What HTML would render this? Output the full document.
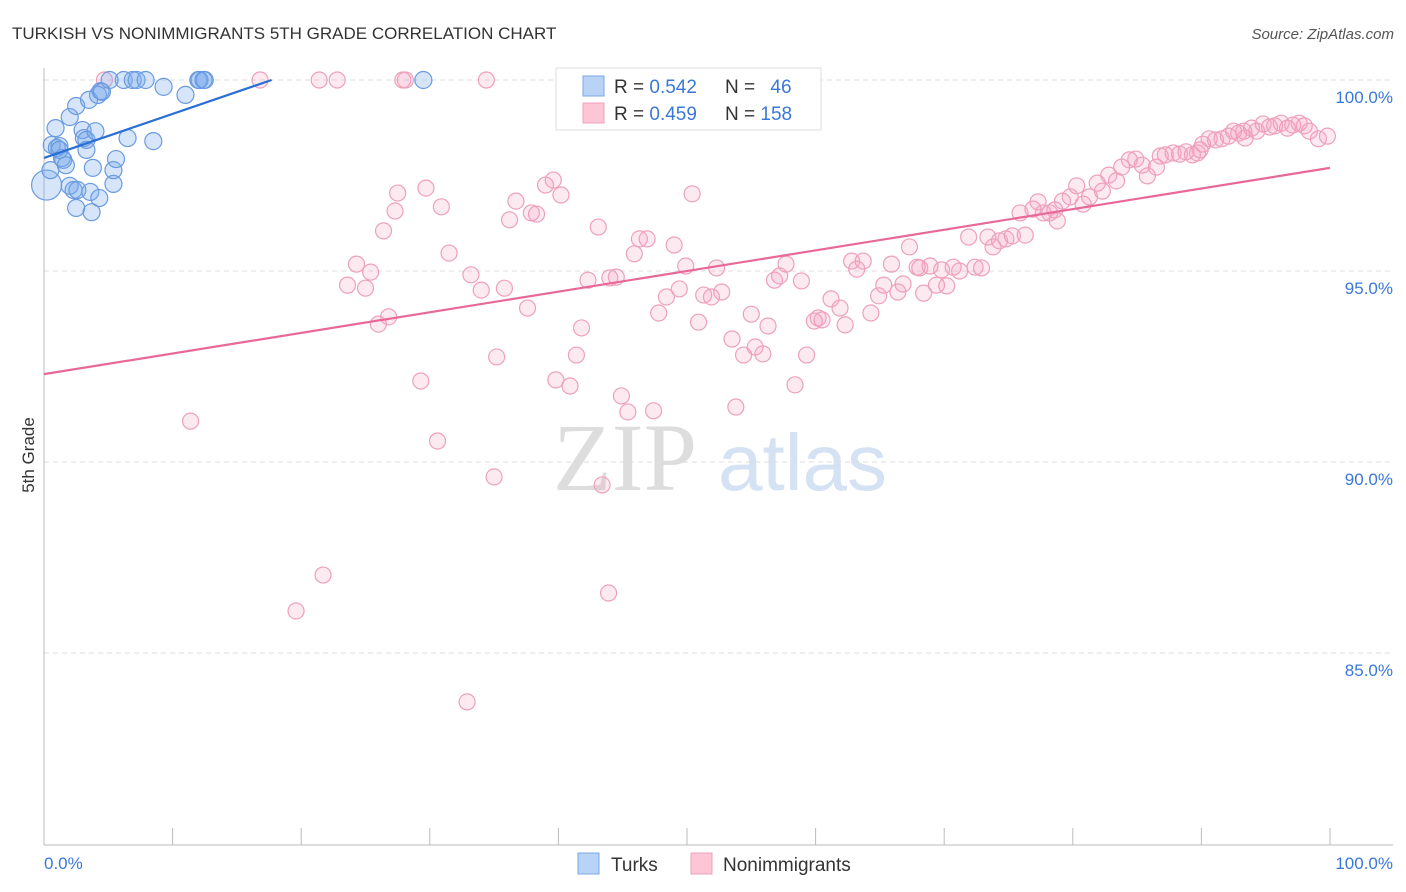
<!DOCTYPE html>
<html><head><meta charset="utf-8"><style>
body{margin:0;background:#fff;font-family:"Liberation Sans",sans-serif}
svg{display:block}
</style></head><body>
<svg id="chart" width="1406" height="892">
<text x="12" y="39" font-size="17" fill="#333">TURKISH VS NONIMMIGRANTS 5TH GRADE CORRELATION CHART</text>
<text x="1394" y="39" font-size="15" fill="#555" font-style="italic" text-anchor="end">Source: ZipAtlas.com</text>
<g>
<text x="553" y="490" font-size="96" font-family="Liberation Serif,serif" fill="#ddd">ZIP</text>
<text x="718" y="490" font-size="80" fill="#d4e2f4">atlas</text>
</g>
<g id="grid"></g>
<g id="axes"></g>
<g id="pts"></g>
<g id="lines"></g>
<text transform="translate(34,455) rotate(-90)" font-size="17" fill="#333" text-anchor="middle">5th Grade</text>
<text x="44" y="869" font-size="17" fill="#3a78d8">0.0%</text>
<text x="1393" y="869" font-size="17" fill="#3a78d8" text-anchor="end">100.0%</text>
<g>
<rect x="556" y="68" width="265" height="62" fill="#fff" stroke="#ddd"/>
<rect x="583" y="76" width="21" height="20" fill="#b8d3f5" stroke="#7aa8e8"/>
<rect x="583" y="103" width="21" height="20" fill="#fcc6d6" stroke="#eea0ba"/>
<text x="614" y="93" font-size="19" fill="#333">R = <tspan fill="#3a78d8">0.542</tspan></text>
<text x="725" y="93" font-size="19" fill="#333">N = <tspan fill="#3a78d8" dx="10">46</tspan></text>
<text x="614" y="120" font-size="19" fill="#333">R = <tspan fill="#3a78d8">0.459</tspan></text>
<text x="725" y="120" font-size="19" fill="#333">N = <tspan fill="#3a78d8">158</tspan></text>
</g>
<g>
<rect x="578" y="853" width="21" height="21" fill="#b8d3f5" stroke="#7aa8e8"/>
<text x="611" y="871" font-size="19" fill="#333">Turks</text></g>
<g>
<rect x="691" y="853" width="21" height="21" fill="#fcc6d6" stroke="#eea0ba"/>
<text x="723" y="871" font-size="19" fill="#333">Nonimmigrants</text></g>
</svg>
<script>
const yTicks=[100,95,90,85];
const yTickLabels=["100.0%","95.0%","90.0%","85.0%"];
const turksX=[0.2,0.5,0.6,0.9,1.0,1.2,1.4,1.5,1.7,2.0,2.0,2.3,2.5,2.5,2.6,3.0,3.1,3.3,3.3,3.5,3.6,3.7,3.8,4.0,4.2,4.3,4.4,4.5,5.1,5.4,5.4,5.6,6.2,6.5,6.9,7.2,7.9,8.5,9.3,11.0,12.0,12.1,12.4,12.5,29.5,1.2];
const turksY=[97.25,97.64,98.30,98.74,98.22,98.27,97.96,97.91,97.77,99.03,97.23,97.12,99.32,96.65,97.12,98.69,98.48,98.43,98.17,99.48,97.07,96.54,97.70,98.66,99.61,96.91,99.71,99.69,100,97.28,97.64,97.93,100,98.48,100,100,100,98.40,99.82,99.61,100,100,100,100,100,98.17];
const nonX=[4.7,11.4,16.8,19.6,21.4,21.7,22.8,23.6,24.3,25.0,25.4,26.0,26.4,26.8,27.3,27.5,27.9,28.1,29.3,29.7,30.6,30.9,31.5,32.9,33.2,34.0,34.4,35.0,35.2,35.8,36.2,36.7,37.6,37.9,38.3,39.0,39.6,39.8,40.2,40.9,41.4,41.8,42.3,43.1,43.4,43.9,44.0,44.5,44.9,45.4,45.9,46.3,46.9,47.4,47.8,48.4,49.0,49.4,49.9,50.4,50.9,51.3,51.9,52.3,52.7,53.5,53.8,54.4,55.0,55.3,55.9,56.3,56.8,57.2,57.7,58.4,58.9,59.3,59.9,60.2,60.5,61.2,61.9,62.3,62.8,63.2,63.7,64.3,64.9,65.3,65.9,66.4,66.8,67.3,67.9,68.4,68.9,69.4,69.8,70.2,70.7,71.2,71.9,72.4,72.9,73.4,73.8,74.3,74.8,75.3,75.9,76.3,76.9,77.3,77.7,78.2,78.8,79.2,79.8,80.3,80.8,81.3,81.9,82.3,82.8,83.4,83.8,84.4,84.9,85.4,85.8,86.5,86.8,87.2,87.8,88.3,88.8,89.3,89.7,90.1,90.6,91.1,91.6,92.1,92.5,92.9,93.3,93.9,94.3,94.8,95.3,95.7,96.2,96.7,97.1,97.6,98.0,98.4,99.1,99.8,93.4,89.9,78.6,68.1];
const nonY=[100,91.07,100,86.10,100,87.04,100,94.63,95.18,94.55,94.97,93.61,96.05,93.80,96.57,97.04,100,100,92.12,97.17,90.55,96.68,95.47,83.72,94.90,94.50,100,89.61,92.75,94.55,96.34,96.83,94.03,96.52,96.49,97.25,97.38,92.15,96.99,91.99,92.80,93.51,94.76,96.15,89.40,86.57,94.82,94.84,91.73,91.31,95.45,95.84,95.84,91.34,93.90,94.32,95.68,94.53,95.13,97.02,93.66,94.37,94.32,95.08,94.45,93.22,91.44,92.80,93.87,93.01,92.83,93.56,94.76,94.87,95.18,92.02,94.74,92.80,93.69,93.77,93.72,94.27,94.03,93.59,95.26,95.05,95.26,93.90,94.35,94.63,95.18,94.45,94.66,95.63,95.10,94.42,95.13,94.63,95.03,94.61,95.10,95.0,95.89,95.10,95.08,95.89,95.63,95.79,95.84,95.92,96.52,95.94,96.62,96.81,96.52,96.52,96.31,96.83,96.94,97.23,96.75,96.94,97.30,97.09,97.51,97.36,97.72,97.91,97.93,97.77,97.49,97.72,98.01,98.04,98.09,98.06,98.12,98.04,98.09,98.32,98.46,98.43,98.46,98.53,98.66,98.61,98.66,98.74,98.66,98.85,98.77,98.80,98.87,98.74,98.82,98.87,98.80,98.66,98.46,98.53,98.48,98.17,96.60,95.08];
const turksTrend=[[0,97.96],[17.7,100]];
const nonTrend=[[0,92.30],[100,97.70]];
const NS="http://www.w3.org/2000/svg";
const sx=v=>44+v*12.86, sy=v=>80+(100-v)*38.2;
function mk(t,a,p){const e=document.createElementNS(NS,t);for(const k in a)e.setAttribute(k,a[k]);p.appendChild(e);return e;}
const grid=document.getElementById('grid'),axes=document.getElementById('axes'),pts=document.getElementById('pts'),lines=document.getElementById('lines');
yTicks.forEach((t,i)=>{
 const l=mk('line',{x1:44,x2:1393,y1:sy(t),y2:sy(t),stroke:'#ddd','stroke-dasharray':'5,4'},grid);
 
 
 const tx=mk('text',{x:1393,y:sy(t)+23,'font-size':17,fill:'#3a78d8','text-anchor':'end'},grid);
 tx.textContent=yTickLabels[i];
 
 
});
const ya=mk('line',{x1:44,x2:44,y1:68,y2:845,stroke:'#bbb'},axes);


const xa=mk('line',{x1:44,x2:1393,y1:845,y2:845,stroke:'#bbb'},axes);


for(let k=0;k<=100;k+=10){
 const t=mk('line',{x1:sx(k),x2:sx(k),y1:828,y2:845,stroke:'#bbb'},axes);
 
 
}
nonX.forEach((x,i)=>{
 const c=mk('circle',{cx:sx(x),cy:sy(nonY[i]),r:8,fill:'rgba(245,160,190,0.22)',stroke:'#eda0bb','stroke-width':1.2},pts);
 
 
});
turksX.forEach((x,i)=>{
 const c=mk('circle',{cx:sx(x),cy:sy(turksY[i]),r:i===0?15:8.5,fill:'rgba(120,170,235,0.3)',stroke:'#6a9be0','stroke-width':1.2},pts);
 
 
});
const tl=mk('line',{x1:sx(turksTrend[0][0]),y1:sy(turksTrend[0][1]),x2:sx(turksTrend[1][0]),y2:sy(turksTrend[1][1]),stroke:'#2a6fd6','stroke-width':2.2},lines);


const nl=mk('line',{x1:sx(nonTrend[0][0]),y1:sy(nonTrend[0][1]),x2:sx(nonTrend[1][0]),y2:sy(nonTrend[1][1]),stroke:'#e8689a','stroke-width':2.2},lines);


</script>
</body></html>
